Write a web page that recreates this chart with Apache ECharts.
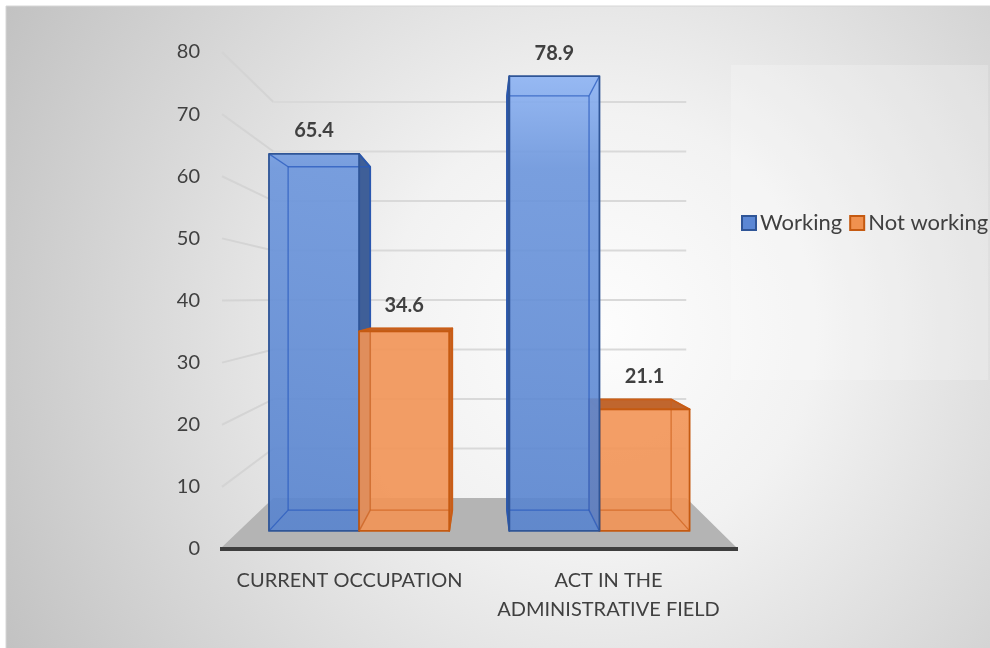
<!DOCTYPE html>
<html>
<head>
<meta charset="utf-8">
<script src="https://cdn.jsdelivr.net/npm/echarts@6/dist/echarts.min.js"></script>
<style>
  html, body { margin: 0; padding: 0; background: #fff; }
  #main { width: 990px; height: 648px; }
</style>
</head>
<body>
<div id="main"></div>
<script>
const categories = ['CURRENT OCCUPATION', 'ACT IN THE\nADMINISTRATIVE FIELD'];
const working = [65.4, 78.9];
const notWorking = [34.6, 21.1];
const yTicks = [10, 20, 30, 40, 50, 60, 70, 80];

// fake 3d: vanishing point + depth scale of each plane
const VPX = 483, VPY = 298;
const S_WALL = 0.797;
const S_FRONT = 0.928;
const S_BACK = 0.845;
const BAR_W = 0.375;

function proj(p, s) {
    return [VPX + (p[0] - VPX) * s, VPY + (p[1] - VPY) * s];
}

const looks = [{
    front: new echarts.graphic.LinearGradient(0, 70, 0, 540, [
        { offset: 0, color: '#8fb5f5' },
        { offset: 0.21, color: '#6b95dc' },
        { offset: 1, color: '#5783ce' }
    ], true),
    side: '#3f5f98',
    top: '#3f5f98',
    edge: '#2f5597',
    inner: 'rgba(40,90,190,0.75)'
}, {
    front: '#f29355',
    side: '#c9662a',
    top: '#c0662e',
    edge: '#c55a11',
    inner: 'rgba(205,95,25,0.7)'
}];

function poly(points, style) {
    return { type: 'polygon', shape: { points: points }, style: style };
}

function seg(a, b, style) {
    return { type: 'line', shape: { x1: a[0], y1: a[1], x2: b[0], y2: b[1] }, style: style };
}

function barRenderer(side) {
    const look = looks[side];
    return function (params, api) {
        const base = api.coord([api.value(0), 0]);
        const top = api.coord([api.value(0), api.value(1)]);
        const w = api.size([1, 0])[0] * BAR_W;
        const x0 = side === 0 ? base[0] - w : base[0];
        const x1 = x0 + w;
        const y0 = base[1], y1 = top[1];
        const corners = [[x0, y1], [x1, y1], [x1, y0], [x0, y0]];
        const F = corners.map(p => proj(p, S_FRONT));
        const B = corners.map(p => proj(p, S_BACK));

        const children = [];
        const solid = { stroke: look.edge, lineWidth: 1.8, lineJoin: 'round' };
        const faces = [];
        if (x0 > VPX) faces.push([F[0], B[0], B[3], F[3]]);
        if (x1 < VPX) faces.push([F[1], B[1], B[2], F[2]]);
        faces.forEach(f => children.push(poly(f, Object.assign({ fill: look.side }, solid))));
        if (y1 > VPY) children.push(poly([F[0], F[1], B[1], B[0]], Object.assign({ fill: look.top }, solid)));

        children.push(poly(F, { fill: look.front, opacity: 0.9 }));

        const thin = { stroke: look.inner, lineWidth: 1.3 };
        for (let i = 0; i < 4; i++) {
            children.push(seg(B[i], B[(i + 1) % 4], thin));
            children.push(seg(F[i], B[i], thin));
        }
        children.push(poly(F, Object.assign({ fill: null }, solid)));

        // bars nearer the vanishing point sit on top
        const depth = 1000 - Math.round(Math.abs((x0 + x1) / 2 - VPX));
        children.forEach((c, i) => { c.z2 = depth * 50 + i; });

        children.push({
            type: 'text',
            z2: 100000,
            style: {
                text: String(api.value(1)),
                x: (F[0][0] + F[1][0]) / 2,
                y: Math.min(F[0][1], B[0][1]) - 23,
                align: 'center',
                verticalAlign: 'middle',
                fontFamily: 'Lato',
                fontSize: 20,
                fontWeight: 'bold',
                fill: '#404040'
            }
        });
        return { type: 'group', children: children };
    };
}

function renderWall(params, api) {
    const cs = params.coordSys;
    const y = api.coord([0, api.value(1)])[1];
    const a = proj([cs.x, y], S_WALL);
    const b = proj([cs.x + cs.width, y], S_WALL);
    return {
        type: 'group',
        children: [
            seg([cs.x + 2, y], a, { stroke: '#d4d4d4', lineWidth: 2 }),
            seg(a, b, { stroke: '#d9d9d9', lineWidth: 2 })
        ]
    };
}

function renderFloor(params, api) {
    const cs = params.coordSys;
    const y = api.coord([0, api.value(1)])[1];
    const fl = [cs.x, y], fr = [cs.x + cs.width, y];
    return {
        type: 'group',
        children: [
            poly([fl, fr, proj(fr, S_WALL), proj(fl, S_WALL)], { fill: '#b4b4b4' }),
            seg(fl, fr, { stroke: '#3e3e3e', lineWidth: 4 })
        ]
    };
}

const chart = echarts.init(document.getElementById('main'));

chart.setOption({
    animation: false,
    backgroundColor: '#ffffff',
    textStyle: { fontFamily: 'Lato' },
    graphic: {
        elements: [{
            type: 'rect',
            z: -10,
            silent: true,
            shape: { x: 6, y: 6, width: 990, height: 648 },
            style: {
                fill: {
                    type: 'radial', x: 600, y: 330, r: 720, global: true,
                    colorStops: [
                        { offset: 0, color: '#fdfdfd' },
                        { offset: 0.3, color: '#f2f2f2' },
                        { offset: 1, color: '#bdbdbd' }
                    ]
                },
                stroke: '#d6d6d6',
                lineWidth: 1
            }
        }]
    },
    legend: {
        left: 731,
        top: 65,
        orient: 'horizontal',
        padding: [147, 0, 146, 10],
        backgroundColor: 'rgba(255,255,255,0.22)',
        itemWidth: 14,
        itemHeight: 14,
        itemGap: 7,
        icon: 'rect',
        textStyle: { fontSize: 22, color: '#404040', fontFamily: 'Lato', padding: [0, 0, 0, -1] },
        data: [
            { name: 'Working', itemStyle: { color: '#5b87d4', borderColor: '#2f5597', borderWidth: 2 } },
            { name: 'Not working', itemStyle: { color: '#f0914f', borderColor: '#c55a11', borderWidth: 2 } }
        ]
    },
    grid: { left: 220, right: 252, top: 52, bottom: 99 },
    xAxis: {
        type: 'category',
        data: categories,
        axisLine: { show: false },
        axisTick: { show: false },
        axisLabel: {
            interval: 0,
            margin: 17,
            fontSize: 20,
            lineHeight: 29,
            color: '#404040',
            fontFamily: 'Lato'
        }
    },
    yAxis: {
        type: 'value',
        min: 0,
        max: 80,
        interval: 10,
        axisLine: { show: false },
        axisTick: { show: false },
        splitLine: { show: false },
        axisLabel: { margin: 20, fontSize: 20, color: '#404040', fontFamily: 'Lato' }
    },
    series: [{
        type: 'custom',
        name: 'floor',
        silent: true,
        z: 1,
        renderItem: renderFloor,
        data: [[0, 0]]
    }, {
        type: 'custom',
        name: 'walls',
        silent: true,
        z: 1,
        renderItem: renderWall,
        data: yTicks.map(v => [0, v])
    }, {
        type: 'custom',
        name: 'Working',
        z: 3,
        itemStyle: { color: '#5b87d4' },
        renderItem: barRenderer(0),
        data: working.map((v, i) => [i, v])
    }, {
        type: 'custom',
        name: 'Not working',
        z: 3,
        itemStyle: { color: '#f0914f' },
        renderItem: barRenderer(1),
        data: notWorking.map((v, i) => [i, v])
    }]
});
</script>
</body>
</html>
